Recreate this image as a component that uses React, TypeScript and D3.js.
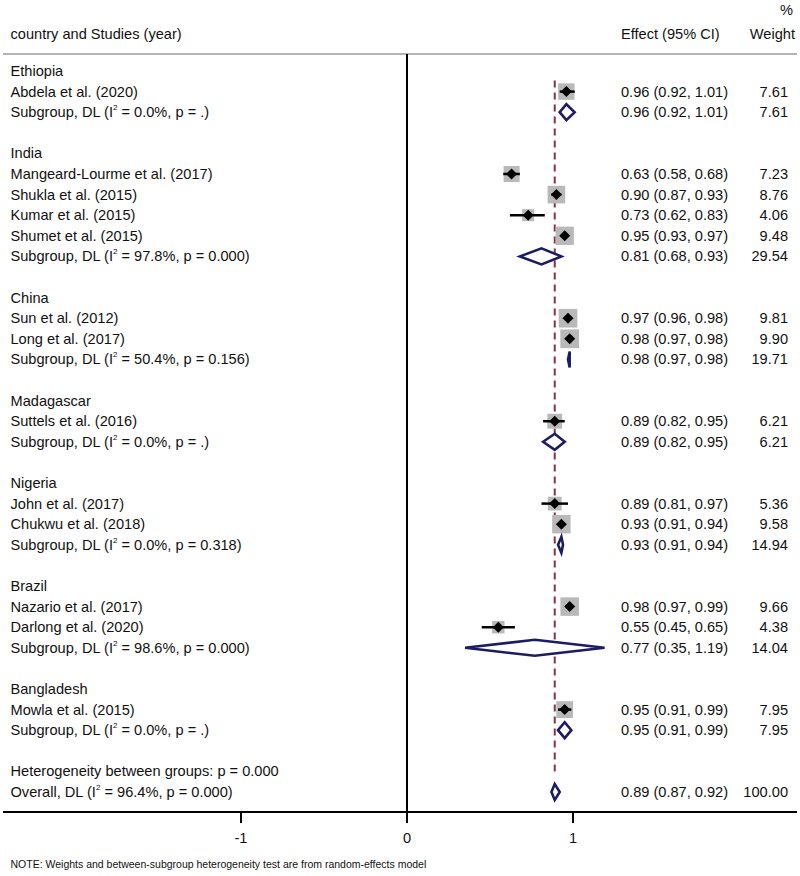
import React from "react";
import * as d3 from "d3";

// ---- Data ----
const groupNames = ["Ethiopia", "India", "China", "Madagascar", "Nigeria", "Brazil", "Bangladesh"];

const studyLabels = [
  "Abdela et al. (2020)",
  "Mangeard-Lourme et al. (2017)",
  "Shukla et al. (2015)",
  "Kumar et al. (2015)",
  "Shumet et al. (2015)",
  "Sun et al. (2012)",
  "Long et al. (2017)",
  "Suttels et al. (2016)",
  "John et al. (2017)",
  "Chukwu et al. (2018)",
  "Nazario et al. (2017)",
  "Darlong et al. (2020)",
  "Mowla et al. (2015)",
];
const studyGroup = [0, 1, 1, 1, 1, 2, 2, 3, 4, 4, 5, 5, 6];
const studyEffect = [0.96, 0.63, 0.9, 0.73, 0.95, 0.97, 0.98, 0.89, 0.89, 0.93, 0.98, 0.55, 0.95];
const studyLower = [0.92, 0.58, 0.87, 0.62, 0.93, 0.96, 0.97, 0.82, 0.81, 0.91, 0.97, 0.45, 0.91];
const studyUpper = [1.01, 0.68, 0.93, 0.83, 0.97, 0.98, 0.98, 0.95, 0.97, 0.94, 0.99, 0.65, 0.99];
const studyWeight = [7.61, 7.23, 8.76, 4.06, 9.48, 9.81, 9.9, 6.21, 5.36, 9.58, 9.66, 4.38, 7.95];

const subI2 = ["0.0", "97.8", "50.4", "0.0", "0.0", "98.6", "0.0"];
const subP = [".", "0.000", "0.156", ".", "0.318", "0.000", "."];
const subEffect = [0.96, 0.81, 0.98, 0.89, 0.93, 0.77, 0.95];
const subLower = [0.92, 0.68, 0.97, 0.82, 0.91, 0.35, 0.91];
const subUpper = [1.01, 0.93, 0.98, 0.95, 0.94, 1.19, 0.99];
const subWeight = [7.61, 29.54, 19.71, 6.21, 14.94, 14.04, 7.95];

const overallEffect = 0.89;
const overallLower = 0.87;
const overallUpper = 0.92;
const overallWeight = 100.0;
const overallI2 = "96.4";
const overallP = "0.000";
const hetBetweenP = "0.000";

const axisTicks = [-1, 0, 1];

// ---- Layout ----
const W = 800;
const H = 876;
const FONT = "'Liberation Sans', Arial, Helvetica, sans-serif";
const FS = 14.6;
const NAVY = "#1c1c64";
const DASH = "#86324a";

type Row =
  | { kind: "group"; label: string }
  | { kind: "study"; i: number }
  | { kind: "sub"; g: number }
  | { kind: "blank" }
  | { kind: "het" }
  | { kind: "overall" };

function buildRows(): Row[] {
  const rows: Row[] = [];
  groupNames.forEach((name, g) => {
    rows.push({ kind: "group", label: name });
    studyGroup.forEach((sg, i) => {
      if (sg === g) rows.push({ kind: "study", i });
    });
    rows.push({ kind: "sub", g });
    rows.push({ kind: "blank" });
  });
  rows.push({ kind: "het" });
  rows.push({ kind: "overall" });
  return rows;
}

const fmt2 = d3.format(".2f");
const ciText = (e: number, l: number, u: number) => `${fmt2(e)} (${fmt2(l)}, ${fmt2(u)})`;

function I2Label({ prefix, i2, p, x, y }: { prefix: string; i2: string; p: string; x: number; y: number }) {
  return (
    <text x={x} y={y} fontSize={FS} fontFamily={FONT} fill="#111">
      {prefix} (I
      <tspan fontSize={8} dy={-7}>2</tspan>
      <tspan dy={7}>{` = ${i2}%, p = ${p})`}</tspan>
    </text>
  );
}

export default function App() {
  const rows = buildRows();
  const x = d3.scaleLinear().domain([-1, 1]).range([241, 573]);
  const y = d3.scaleLinear().domain([0, rows.length - 1]).range([71, 792]);

  const axisY = 812;
  const headerLineY = 54;
  const labelX = 10.5;
  const ciX = 621;
  const wX = 788;
  const sqK = 5.95;

  const diamond = (lo: number, e: number, hi: number, cy: number, hh: number) =>
    `M${x(lo)},${cy} L${x(e)},${cy - hh} L${x(hi)},${cy} L${x(e)},${cy + hh} Z`;

  const overallIdx = rows.length - 1;
  const firstStudyIdx = 1;

  return (
    <svg width={W} height={H} style={{ display: "block", position: "absolute", left: 0, top: 0, background: "#fff" }}>
      <rect x={0} y={0} width={W} height={H} fill="#fff" />
      {/* header */}
      <text x={labelX} y={39} fontSize={FS} fontFamily={FONT} fill="#111">country and Studies (year)</text>
      <text x={ciX} y={39} fontSize={FS} fontFamily={FONT} fill="#111">Effect (95% CI)</text>
      <text x={793} y={15} fontSize={FS} fontFamily={FONT} fill="#111" textAnchor="end">%</text>
      <text x={795} y={39} fontSize={FS} fontFamily={FONT} fill="#111" textAnchor="end">Weight</text>
      <line x1={3} x2={797} y1={headerLineY} y2={headerLineY} stroke="#b4b4b4" strokeWidth={2} />

      {/* null line */}
      <line x1={x(0)} x2={x(0)} y1={headerLineY} y2={axisY} stroke="#000" strokeWidth={2} />

      {/* overall dashed line */}
      <line
        x1={x(overallEffect)}
        x2={x(overallEffect)}
        y1={y(firstStudyIdx) - 11}
        y2={y(overallIdx) - 17}
        stroke={DASH}
        strokeWidth={2}
        strokeDasharray="7,5"
      />

      {rows.map((r, k) => {
        const cy = y(k);
        const ty = cy + 5;
        if (r.kind === "group") {
          return (
            <text key={k} x={labelX} y={ty} fontSize={FS} fontFamily={FONT} fill="#111">{r.label}</text>
          );
        }
        if (r.kind === "study") {
          const i = r.i;
          const s = sqK * Math.sqrt(studyWeight[i]);
          const cx = x(studyEffect[i]);
          return (
            <g key={k}>
              <text x={labelX} y={ty} fontSize={FS} fontFamily={FONT} fill="#111">{studyLabels[i]}</text>
              <rect x={cx - s / 2} y={cy - s / 2} width={s} height={s} fill="#b9b9b9" />
              <line x1={x(studyLower[i])} x2={x(studyUpper[i])} y1={cy} y2={cy} stroke="#000" strokeWidth={2.5} />
              <path d={`M${cx - 5.5},${cy} L${cx},${cy - 5.5} L${cx + 5.5},${cy} L${cx},${cy + 5.5} Z`} fill="#000" />
              <text x={ciX} y={ty} fontSize={FS} fontFamily={FONT} fill="#111">{ciText(studyEffect[i], studyLower[i], studyUpper[i])}</text>
              <text x={wX} y={ty} fontSize={FS} fontFamily={FONT} fill="#111" textAnchor="end">{fmt2(studyWeight[i])}</text>
            </g>
          );
        }
        if (r.kind === "sub") {
          const g = r.g;
          return (
            <g key={k}>
              <I2Label prefix="Subgroup, DL" i2={subI2[g]} p={subP[g]} x={labelX} y={ty} />
              <path d={diamond(subLower[g], subEffect[g], subUpper[g], cy, 8)} fill="#fff" stroke={NAVY} strokeWidth={2.6} strokeLinejoin="miter" />
              <text x={ciX} y={ty} fontSize={FS} fontFamily={FONT} fill="#111">{ciText(subEffect[g], subLower[g], subUpper[g])}</text>
              <text x={wX} y={ty} fontSize={FS} fontFamily={FONT} fill="#111" textAnchor="end">{fmt2(subWeight[g])}</text>
            </g>
          );
        }
        if (r.kind === "het") {
          return (
            <text key={k} x={labelX} y={ty} fontSize={FS} fontFamily={FONT} fill="#111">
              {`Heterogeneity between groups: p = ${hetBetweenP}`}
            </text>
          );
        }
        if (r.kind === "overall") {
          return (
            <g key={k}>
              <I2Label prefix="Overall, DL" i2={overallI2} p={overallP} x={labelX} y={ty} />
              <path d={diamond(overallLower, overallEffect, overallUpper, cy, 8)} fill="#fff" stroke={NAVY} strokeWidth={2.6} />
              <text x={ciX} y={ty} fontSize={FS} fontFamily={FONT} fill="#111">{ciText(overallEffect, overallLower, overallUpper)}</text>
              <text x={wX} y={ty} fontSize={FS} fontFamily={FONT} fill="#111" textAnchor="end">{fmt2(overallWeight)}</text>
            </g>
          );
        }
        return null;
      })}

      {/* axis */}
      <line x1={3} x2={797} y1={axisY} y2={axisY} stroke="#000" strokeWidth={2} />
      {axisTicks.map((t) => (
        <g key={t}>
          <line x1={x(t)} x2={x(t)} y1={axisY} y2={axisY + 11} stroke="#000" strokeWidth={2} />
          <text x={x(t)} y={843} fontSize={FS} fontFamily={FONT} fill="#111" textAnchor="middle">{t}</text>
        </g>
      ))}

      <text x={labelX} y={868} fontSize={10.5} fontFamily={FONT} fill="#111">
        NOTE: Weights and between-subgroup heterogeneity test are from random-effects model
      </text>
    </svg>
  );
}
